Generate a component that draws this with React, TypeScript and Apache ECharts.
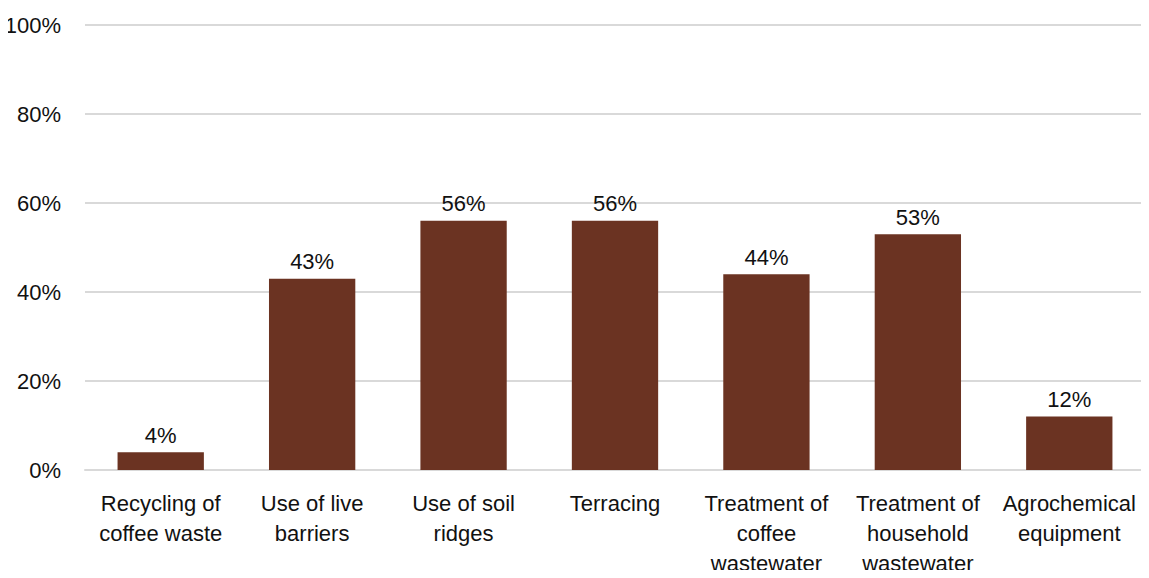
import React, { useEffect, useRef } from "react";
import * as echarts from "echarts";

const categories = [
  "Recycling of\ncoffee waste",
  "Use of live\nbarriers",
  "Use of soil\nridges",
  "Terracing",
  "Treatment of\ncoffee\nwastewater",
  "Treatment of\nhousehold\nwastewater",
  "Agrochemical\nequipment",
];
const values = [4, 43, 56, 56, 44, 53, 12];
const yTicks = [0, 20, 40, 60, 80, 100];

const FONT = "'Liberation Sans Narrow', 'Liberation Sans', Arial, sans-serif";

export default function App() {
  const ref = useRef<HTMLDivElement>(null);
  useEffect(() => {
    if (!ref.current) return;
    const chart = echarts.init(ref.current, null, { renderer: "svg" });
    chart.setOption({
      animation: false,
      grid: {
        left: 85,
        right: 4,
        top: 25,
        bottom: 108,
        containLabel: false,
        outerBoundsMode: "none",
      },
      xAxis: {
        type: "category",
        data: categories,
        axisLine: { show: true, lineStyle: { color: "#d9d9d9", width: 2 } },
        axisTick: { show: false },
        axisLabel: {
          color: "#111",
          fontFamily: FONT,
          fontSize: 22,
          lineHeight: 30,
          margin: 18,
          interval: 0,
        },
      },
      yAxis: {
        type: "value",
        min: yTicks[0],
        max: yTicks[yTicks.length - 1],
        interval: 20,
        axisLine: { show: false },
        axisTick: { show: false },
        splitLine: { lineStyle: { color: "#d9d9d9", width: 2 } },
        axisLabel: {
          color: "#111",
          fontFamily: FONT,
          fontSize: 22,
          margin: 24,
          formatter: (v: number) => v + "%",
        },
      },
      series: [
        {
          type: "bar",
          data: values,
          barCategoryGap: "43%",
          itemStyle: { color: "#6b3322" },
          label: {
            show: true,
            position: "top",
            distance: 6,
            color: "#111",
            fontFamily: FONT,
            fontSize: 22,
            formatter: (p: any) => p.value + "%",
          },
        },
      ],
    });
    return () => chart.dispose();
  }, []);
  return <div ref={ref} style={{ width: 1149, height: 578, margin: -8 }} />;
}
